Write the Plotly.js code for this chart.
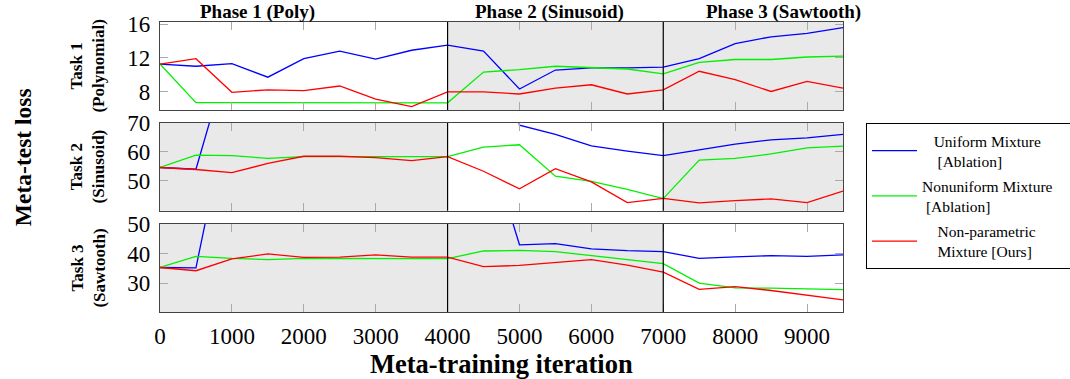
<!DOCTYPE html>
<html>
<head>
<meta charset="utf-8">
<script src="https://cdn.plot.ly/plotly-3.0.1.min.js"></script>
<style>html,body{margin:0;padding:0;background:#fff;}#chart{width:1070px;height:379px;}</style>
</head>
<body>
<div id="chart"></div>
<script>
// Meta-training iterations
const iters = [0,500,1000,1500,2000,2500,3000,3500,4000,4500,5000,5500,6000,6500,7000,7500,8000,8500,9000,9500];

// Task 1 (Polynomial)
const t1Uniform    = [11.26,11.0,11.3,9.7,11.9,12.8,11.85,12.9,13.5,12.8,8.3,10.55,10.8,10.8,10.9,11.9,13.7,14.5,14.9,15.6];
const t1Nonuniform = [11.26,6.67,6.67,6.66,6.66,6.65,6.65,6.65,6.65,10.3,10.6,11.0,10.86,10.67,10.1,11.45,11.8,11.8,12.1,12.2];
const t1Ours       = [11.26,11.9,7.9,8.2,8.1,8.65,7.1,6.2,7.96,7.96,7.7,8.4,8.8,7.7,8.2,10.4,9.4,8.0,9.2,8.4];

// Task 2 (Sinusoid)
const t2Uniform    = [54.6,54.0,97,100,100,100,100,100,100,150,69.3,66.1,62.1,60.3,58.7,60.7,62.7,64.2,64.9,66.1];
const t2Nonuniform = [54.6,58.9,58.7,57.8,58.4,58.4,58.3,58.3,58.4,61.7,62.5,51.6,49.8,47.0,43.8,57.2,57.8,59.3,61.4,62.0];
const t2Ours       = [54.6,53.9,52.8,56.0,58.5,58.5,58.0,57.0,58.4,53.3,47.2,54.2,49.6,42.4,43.9,42.3,43.1,43.7,42.4,46.4];

// Task 3 (Sawtooth)
const t3Uniform    = [35.3,35.2,94,95,95,95,95,95,95,83,43.0,43.4,41.6,41.0,40.7,38.4,38.9,39.3,39.1,39.6];
const t3Nonuniform = [35.3,39.1,38.4,38.0,38.4,38.4,38.2,38.3,38.3,40.9,41.1,40.7,39.3,37.9,36.6,30.0,28.4,28.3,28.0,27.8];
const t3Ours       = [35.3,34.2,38.2,39.9,38.7,38.8,39.6,38.8,38.8,35.6,36.0,37.1,38.0,36.1,33.7,27.9,28.8,27.5,26.0,24.3];

// Phases
const phaseBounds = [0,4000,7000,9500];
const phaseNames = ['Phase 1 (Poly)','Phase 2 (Sinusoid)','Phase 3 (Sawtooth)'];
const phaseLabelX = [1360,5420,8670];
const xTicks = [0,1000,2000,3000,4000,5000,6000,7000,8000,9000];

const taskNames = ['Task 1<br>(Polynomial)','Task 2<br>(Sinusoid)','Task 3<br>(Sawtooth)'];
const seriesNames = ['   Uniform Mixture<br>    [Ablation]','Nonuniform Mixture          <br> [Ablation]','    Non-parametric<br>    Mixture [Ours]'];
const seriesColors = ['#0000ff','#00f000','#ff0000'];
const yTicks = [[8,12,16],[50,60,70],[30,40,50]];
const yRanges = [[5.8,16.26],[39.6,70.05],[20.2,50.05]];

const data = [
  [t1Uniform,t1Nonuniform,t1Ours],
  [t2Uniform,t2Nonuniform,t2Ours],
  [t3Uniform,t3Nonuniform,t3Ours]
];

const traces = [];
for (let p = 0; p < 3; p++) {
  for (let s = 0; s < 3; s++) {
    traces.push({
      x: iters, y: data[p][s], type: 'scatter', mode: 'lines',
      name: seriesNames[s], legendgroup: 'g' + s,
      xaxis: p === 0 ? 'x' : 'x' + (p + 1),
      yaxis: p === 0 ? 'y' : 'y' + (p + 1),
      line: {color: seriesColors[s], width: 1.3},
      showlegend: p === 0,
      cliponaxis: true
    });
  }
}

const serif = "'Liberation Serif', 'Times New Roman', Times, serif";
const domains = [[0.6966,1],[0.3493,0.6517],[0,0.3034]];
const layout = {
  width: 1070, height: 379,
  margin: {l:160, r:227, t:22, b:67, autoexpand: false},
  paper_bgcolor: '#fff', plot_bgcolor: '#fff',
  font: {family: serif, color: '#000'},
  showlegend: true,
  legend: {
    x: 1.0337, y: 0.652, xanchor: 'left', yanchor: 'top',
    bordercolor: '#000', borderwidth: 1, bgcolor: '#fff',
    font: {family: serif, size: 15.5, color: '#000'},
    itemwidth: 45, tracegroupgap: 2
  },
  shapes: [], annotations: []
};

const grayPhases = [[1,2],[0,2],[0,1]];
for (let p = 0; p < 3; p++) {
  const xa = p === 0 ? 'xaxis' : 'xaxis' + (p + 1);
  const ya = p === 0 ? 'yaxis' : 'yaxis' + (p + 1);
  const xr = p === 0 ? 'x' : 'x' + (p + 1);
  const yr = p === 0 ? 'y' : 'y' + (p + 1);
  layout[xa] = {
    domain: [0,1], anchor: yr, range: [0,9500],
    tickvals: xTicks, ticktext: xTicks.map(String),
    ticks: 'inside', ticklen: 8, tickcolor: '#aaa', tickwidth: 1,
    showticklabels: p === 2, ticklabelstandoff: 3,
    tickfont: {family: serif, size: 23, color: '#000'},
    showline: true, mirror: 'allticks', linecolor: '#444', linewidth: 1.2,
    showgrid: false, zeroline: false
  };
  layout[ya] = {
    domain: domains[p], anchor: xr, range: yRanges[p],
    tickvals: yTicks[p], ticklabelstandoff: 4,
    ticks: 'inside', ticklen: 8, tickcolor: '#aaa', tickwidth: 1,
    tickfont: {family: serif, size: 23, color: '#000'},
    showline: true, mirror: 'allticks', linecolor: '#444', linewidth: 1.2,
    showgrid: false, zeroline: false
  };
  grayPhases[p].forEach(ph => {
    layout.shapes.push({
      type: 'rect', xref: xr, yref: yr + ' domain',
      x0: phaseBounds[ph], x1: phaseBounds[ph + 1], y0: 0, y1: 1,
      fillcolor: '#e9e9e9', line: {width: 0}, layer: 'below'
    });
  });
  [phaseBounds[1], phaseBounds[2]].forEach(b => {
    layout.shapes.push({
      type: 'line', xref: xr, yref: yr + ' domain',
      x0: b, x1: b, y0: 0, y1: 1,
      line: {color: '#000', width: 1.2}, layer: 'above'
    });
  });
  layout.annotations.push({
    text: taskNames[p], textangle: -90,
    xref: 'paper', yref: yr + ' domain', x: -0.106, y: 0.5,
    xanchor: 'center', yanchor: 'middle', showarrow: false,
    font: {family: serif, size: 17, color: '#000', weight: 'bold'}
  });
}

for (let i = 0; i < 3; i++) {
  layout.annotations.push({
    text: phaseNames[i],
    xref: 'x', yref: 'paper', x: phaseLabelX[i], y: 1.036,
    xanchor: 'center', yanchor: 'middle', showarrow: false,
    font: {family: serif, size: 19, color: '#000', weight: 'bold'}
  });
}
layout.annotations.push({
  text: 'Meta-test loss', textangle: -90,
  xref: 'paper', yref: 'paper', x: -0.2006, y: 0.534,
  xanchor: 'center', yanchor: 'middle', showarrow: false,
  font: {family: serif, size: 23.5, color: '#000', weight: 'bold'}
});
layout.annotations.push({
  text: 'Meta-training iteration',
  xref: 'paper', yref: 'paper', x: 0.5, y: -0.18,
  xanchor: 'center', yanchor: 'middle', showarrow: false,
  font: {family: serif, size: 26.5, color: '#000', weight: 'bold'}
});

Plotly.newPlot('chart', traces, layout, {staticPlot: true, displayModeBar: false});
</script>
</body>
</html>
